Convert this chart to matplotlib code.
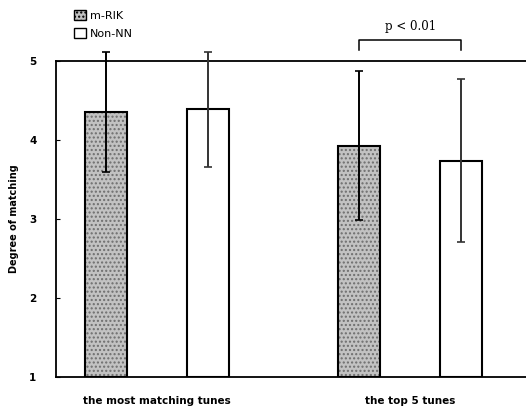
import numpy as np
import matplotlib.pyplot as plt
from matplotlib.patches import Patch

groups = ['the most matching tunes', 'the top 5 tunes']
series = ['m-RIK', 'Non-NN']
means = {'m-RIK': [4.35, 3.93], 'Non-NN': [4.39, 3.74]}
errs = {'m-RIK': [0.76, 0.94], 'Non-NN': [0.73, 1.03]}
yticks = [1, 2, 3, 4, 5]

fig = plt.figure(figsize=(5.26, 4.12), dpi=100)
ax = fig.add_axes([56 / 526, 35 / 412, 1 - 56 / 526, 316 / 412])

x = np.arange(len(groups))
off = 0.2016
w = 0.166
faces = {'m-RIK': '#c2c2c2', 'Non-NN': 'white'}
hatches = {'m-RIK': '....', 'Non-NN': None}
ecols = {'m-RIK': 'black', 'Non-NN': '#333333'}

for i, s in enumerate(series):
    pos = x + (i - 0.5) * 2 * off
    h = np.array(means[s]) - 1
    # texture layer (hatch takes the edge colour), then the black outline
    ax.bar(pos, h, width=w, bottom=1, color=faces[s], hatch=hatches[s],
           edgecolor='#6e6e6e', linewidth=0, zorder=2)
    ax.bar(pos, h, width=w, bottom=1, fill=False, edgecolor='black',
           linewidth=1.5, zorder=2)
    ax.errorbar(pos, means[s], yerr=errs[s], fmt='none', ecolor=ecols[s],
                elinewidth=1.4, capsize=3, capthick=1.2, zorder=3, clip_on=False)

ax.set_xlim(-0.399, 1.458)
ax.set_ylim(1, 5)
ax.set_yticks(yticks)
ax.set_yticklabels([str(t) for t in yticks], fontsize=7.5, fontweight='bold')
ax.tick_params(axis='y', direction='in', length=3, width=0.8, pad=14)
ax.set_xticks(x)
ax.set_xticklabels(groups, fontsize=7.5, fontweight='bold')
ax.tick_params(axis='x', length=0, pad=14)
for side in ['left', 'bottom', 'top']:
    ax.spines[side].set_linewidth(1.3)
ax.spines['right'].set_visible(False)
ax.set_ylabel('Degree of matching', fontsize=7, fontweight='bold', labelpad=7)

# significance bracket
b1 = x[1] - off
b2 = x[1] + off
ax.plot([b1, b1, b2, b2], [5.14, 5.27, 5.27, 5.14], color='black', lw=1.1,
        clip_on=False)
ax.text(x[1], 5.35, 'p < 0.01', ha='center', va='bottom', fontsize=8.5,
        family='DejaVu Serif', clip_on=False)

handles = [Patch(facecolor=faces[s], hatch=hatches[s], edgecolor='black')
           for s in series]
fig.legend(handles, series, loc='upper left', bbox_to_anchor=(70 / 526, 1 - 6 / 412),
           frameon=False, fontsize=8, handlelength=1.0, handleheight=1.0,
           handletextpad=0.4, labelspacing=0.6, borderaxespad=0)

fig.savefig('out.png', dpi=100)
